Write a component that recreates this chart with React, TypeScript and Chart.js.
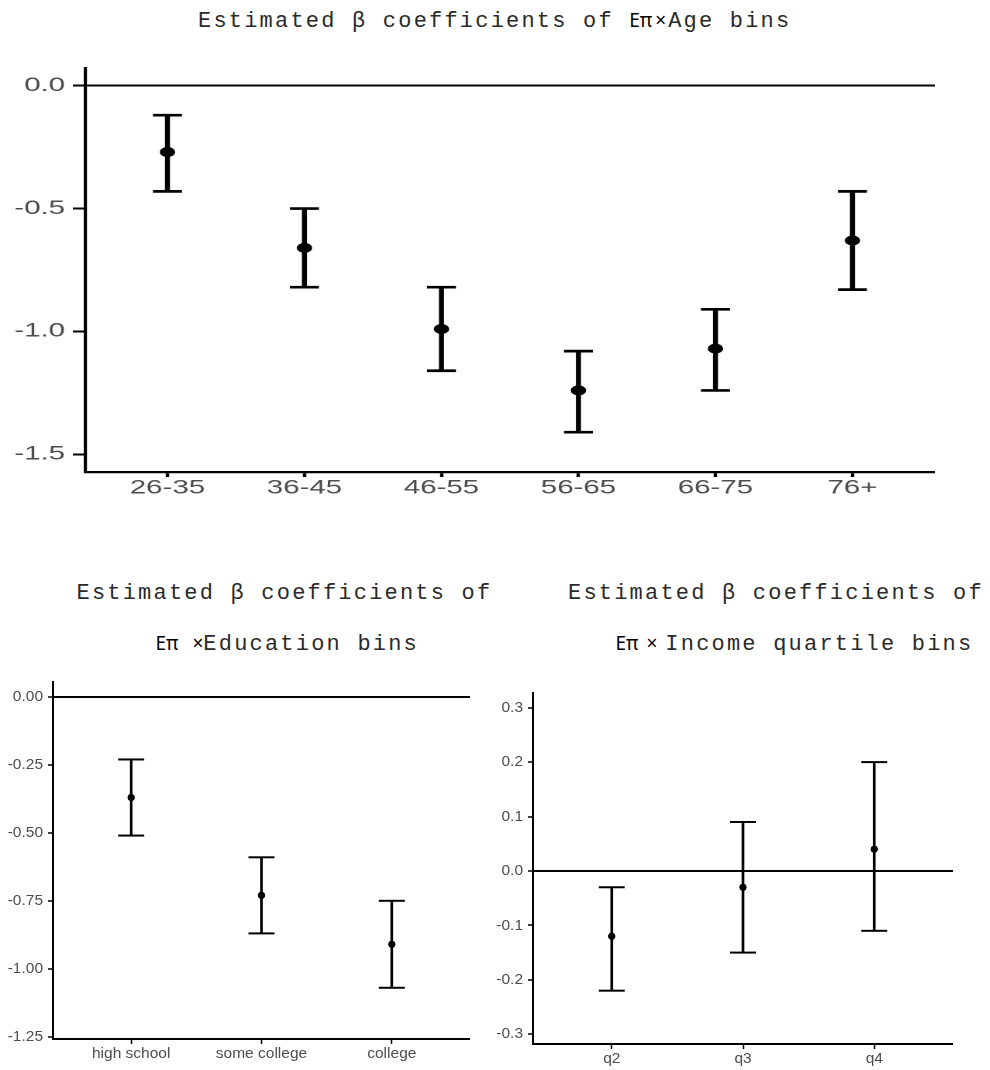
import React, { useEffect, useRef } from "react";
import { Chart, registerables } from "chart.js";

Chart.register(...registerables);

// ---------- data ----------
const ageBins = ["26-35", "36-45", "46-55", "56-65", "66-75", "76+"];
const ageEst = [-0.27, -0.66, -0.99, -1.24, -1.07, -0.63];
const ageLow = [-0.43, -0.82, -1.16, -1.41, -1.24, -0.83];
const ageHigh = [-0.12, -0.5, -0.82, -1.08, -0.91, -0.43];
const ageTicks = [-1.5, -1.0, -0.5, 0];
const ageTickLabels = ["-1.5", "-1.0", "-0.5", "0.0"];
const ageRange = [-1.572, 0.072];

const eduBins = ["high school", "some college", "college"];
const eduEst = [-0.37, -0.73, -0.91];
const eduLow = [-0.51, -0.87, -1.07];
const eduHigh = [-0.23, -0.59, -0.75];
const eduTicks = [-1.25, -1.0, -0.75, -0.5, -0.25, 0];
const eduTickLabels = ["-1.25", "-1.00", "-0.75", "-0.50", "-0.25", "0.00"];
const eduRange = [-1.2585, 0.055];

const incBins = ["q2", "q3", "q4"];
const incEst = [-0.12, -0.03, 0.04];
const incLow = [-0.22, -0.15, -0.11];
const incHigh = [-0.03, 0.09, 0.2];
const incTicks = [-0.3, -0.2, -0.1, 0, 0.1, 0.2, 0.3];
const incTickLabels = ["-0.3", "-0.2", "-0.1", "0.0", "0.1", "0.2", "0.3"];
const incRange = [-0.318, 0.327];

// ---------- styling ----------
const SANS = "'Liberation Sans', Arial, Helvetica, sans-serif";
const MONO = "'Liberation Mono', 'Courier New', monospace";
const GREEK = "'Noto Sans', 'DejaVu Sans', sans-serif";
const TICK_COLOR = "#4d4d4d";
const PAD_TOP = 20;

type Style = {
  fontSize: number;
  yW: number;
  xH: number;
  yTickLen: number;
  yPad: number;
  xTickLen: number;
  xPad: number;
  yBorder: number;
  xBorder: number;
  zeroW: number;
  yTickW: number;
  xTickW: number;
  barW: number;
  capR: number;
  capW: number;
  ptR: number;
  dpr?: number;
};

type Spec = {
  cats: string[];
  est: number[];
  low: number[];
  high: number[];
  ticks: number[];
  tickLabels: string[];
  range: number[];
};

function makeConfig(d: Spec, st: Style): any {
  const n = d.cats.length;
  const xs = d.cats.map((_, i) => i + 1);
  return {
    type: "scatter",
    data: {
      datasets: [
        {
          type: "bar",
          data: xs.map((x, i) => ({ x, y: [d.low[i], d.high[i]] })),
          backgroundColor: "#000",
          borderWidth: 0,
          barThickness: st.barW,
          order: 3,
        },
        {
          type: "scatter",
          data: xs.flatMap((x, i) => [
            { x, y: d.low[i] },
            { x, y: d.high[i] },
          ]),
          pointStyle: "line",
          pointRadius: st.capR,
          pointBorderColor: "#000",
          pointBackgroundColor: "#000",
          pointBorderWidth: st.capW,
          order: 2,
        },
        {
          type: "scatter",
          data: xs.map((x, i) => ({ x, y: d.est[i] })),
          pointStyle: "circle",
          pointRadius: st.ptR,
          pointBackgroundColor: "#000",
          pointBorderColor: "#000",
          pointBorderWidth: 1,
          order: 1,
        },
      ],
    },
    options: {
      animation: false,
      responsive: false,
      devicePixelRatio: st.dpr || 1,
      events: [],
      layout: { autoPadding: false, padding: { top: PAD_TOP, right: 0, bottom: 0, left: 0 } },
      plugins: {
        legend: { display: false },
        tooltip: { enabled: false },
        title: { display: false },
      },
      scales: {
        x: {
          type: "linear",
          min: 0.4,
          max: n + 0.6,
          offset: false,
          afterBuildTicks: (s: any) => {
            s.ticks = xs.map((v) => ({ value: v }));
          },
          afterFit: (s: any) => {
            s.height = st.xH;
          },
          ticks: {
            autoSkip: false,
            maxRotation: 0,
            color: TICK_COLOR,
            padding: st.xPad,
            font: { family: SANS, size: st.fontSize },
            callback: (_v: any, i: number) => d.cats[i],
          },
          grid: {
            display: true,
            offset: false,
            drawOnChartArea: false,
            drawTicks: true,
            tickLength: st.xTickLen,
            tickColor: "#000",
            tickWidth: st.xTickW,
          },
          border: { display: true, color: "#000", width: st.xBorder },
        },
        y: {
          type: "linear",
          min: d.range[0],
          max: d.range[1],
          offset: false,
          afterBuildTicks: (s: any) => {
            s.ticks = d.ticks.map((v) => ({ value: v }));
          },
          afterFit: (s: any) => {
            s.width = st.yW;
          },
          ticks: {
            autoSkip: false,
            color: TICK_COLOR,
            padding: st.yPad,
            font: { family: SANS, size: st.fontSize },
            callback: (_v: any, i: number) => d.tickLabels[i],
          },
          grid: {
            display: true,
            offset: false,
            drawOnChartArea: true,
            drawTicks: true,
            tickLength: st.yTickLen,
            tickColor: "#000",
            tickWidth: st.yTickW,
            lineWidth: st.zeroW,
            color: (ctx: any) =>
              ctx.tick && ctx.tick.value === 0 ? "#000" : "rgba(0,0,0,0)",
          },
          border: { display: true, color: "#000", width: st.yBorder },
        },
      },
    },
  };
}

function ErrChart(props: {
  spec: Spec;
  st: Style;
  left: number;
  top: number;
  width: number;
  height: number;
  stretch?: number;
}) {
  const ref = useRef<HTMLCanvasElement>(null);
  useEffect(() => {
    const chart = new Chart(ref.current as HTMLCanvasElement, makeConfig(props.spec, props.st));
    return () => chart.destroy();
  }, []);
  return (
    <div
      style={{
        position: "absolute",
        left: props.left,
        top: props.top,
        width: props.width,
        height: props.height,
        transform: props.stretch ? `scaleX(${props.stretch})` : undefined,
        transformOrigin: "0 0",
      }}
    >
      <canvas ref={ref} width={props.width} height={props.height} />
    </div>
  );
}

const monoStyle: React.CSSProperties = {
  fontFamily: MONO,
  fontSize: 22,
  letterSpacing: 2.2,
  color: "#2a2a2a",
};
const greekStyle: React.CSSProperties = {
  fontFamily: GREEK,
  fontSize: 19,
  color: "#000",
};

function TitleLine(props: { left: number; top: number; children: React.ReactNode }) {
  return (
    <div
      style={{
        position: "absolute",
        left: props.left,
        top: props.top,
        whiteSpace: "pre",
        lineHeight: 1,
        fontFamily: MONO,
        fontSize: 22,
      }}
    >
      {props.children}
    </div>
  );
}

export default function App() {
  const ageSpec: Spec = {
    cats: ageBins, est: ageEst, low: ageLow, high: ageHigh,
    ticks: ageTicks, tickLabels: ageTickLabels, range: ageRange,
  };
  const eduSpec: Spec = {
    cats: eduBins, est: eduEst, low: eduLow, high: eduHigh,
    ticks: eduTicks, tickLabels: eduTickLabels, range: eduRange,
  };
  const incSpec: Spec = {
    cats: incBins, est: incEst, low: incLow, high: incHigh,
    ticks: incTicks, tickLabels: incTickLabels, range: incRange,
  };

  const topStyle: Style = {
    fontSize: 19, yW: 55, xH: 30, yTickLen: 8, yPad: 5, xTickLen: 5, xPad: 0,
    yBorder: 2.1, xBorder: 2.3, zeroW: 2, yTickW: 2, xTickW: 2.2,
    barW: 2.6, capR: 9.35, capW: 2.7, ptR: 4.5, dpr: 2,
  };
  const botStyle: Style = {
    fontSize: 15.5, yW: 53, xH: 30, yTickLen: 5, yPad: 5, xTickLen: 5, xPad: 0,
    yBorder: 2, xBorder: 2, zeroW: 2, yTickW: 1.5, xTickW: 1.5,
    barW: 2, capR: 13, capW: 2, ptR: 3.2,
  };
  const botStyleR: Style = { ...botStyle, yW: 50 };

  return (
    <div style={{ position: "absolute", left: 0, top: 0, width: 990, height: 1070, background: "#fff" }}>
      <TitleLine left={198} top={10.5}>
        <span style={monoStyle}>Estimated β coefficients of </span>
        <span style={greekStyle}>Eπ</span>
        <span style={{ ...greekStyle, marginLeft: 3 }}>×</span>
        <span style={{ ...monoStyle, marginLeft: 2 }}>Age bins</span>
      </TitleLine>

      <ErrChart spec={ageSpec} st={topStyle} left={0} top={68 - PAD_TOP} width={603} height={472 - 68 + PAD_TOP + 30} stretch={1.55} />

      <TitleLine left={76.5} top={583.1}>
        <span style={monoStyle}>Estimated β coefficients of</span>
      </TitleLine>
      <TitleLine left={155.5} top={633.5}>
        <span style={greekStyle}>Eπ</span>
        <span style={{ ...greekStyle, marginLeft: 14 }}>×</span>
        <span style={{ ...monoStyle, marginLeft: 0 }}>Education bins</span>
      </TitleLine>

      <TitleLine left={568} top={583.1}>
        <span style={monoStyle}>Estimated β coefficients of</span>
      </TitleLine>
      <TitleLine left={615.5} top={633.5}>
        <span style={greekStyle}>Eπ</span>
        <span style={{ ...greekStyle, marginLeft: 8 }}>×</span>
        <span style={{ ...monoStyle, marginLeft: 8 }}>Income quartile bins</span>
      </TitleLine>

      <ErrChart spec={eduSpec} st={botStyle} left={0} top={682 - PAD_TOP} width={470} height={1039 - 682 + PAD_TOP + 30} />
      <ErrChart spec={incSpec} st={botStyleR} left={483} top={693 - PAD_TOP} width={470} height={1044 - 693 + PAD_TOP + 30} />
    </div>
  );
}
